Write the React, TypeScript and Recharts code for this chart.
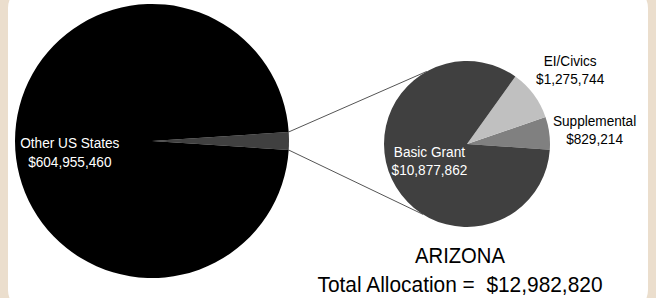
import { PieChart, Pie, Cell, Customized } from "recharts";

const usNames = ["Arizona", "Other US States"];
const usValues = [12982820, 604955460];
const usColors = ["#404040", "#000000"];

const azNames = ["Supplemental", "EI/Civics", "Basic Grant"];
const azValues = [829214, 1275744, 10877862];
const azColors = ["#808080", "#c0c0c0", "#404040"];

const stateName = "ARIZONA";
const totalLabel = "Total Allocation =  $12,982,820";

// no narrow font installed, so Liberation Sans gets squeezed horizontally
const FONT = "'Liberation Sans', Arial, sans-serif";

const usData = usNames.map((name, i) => ({ name, value: usValues[i] }));
const azData = azNames.map((name, i) => ({ name, value: azValues[i] }));

const money = (v: number) => "$" + v.toLocaleString("en-US");

const azShare = usValues[0] / (usValues[0] + usValues[1]);
const usStart = -azShare * 180;

// pie geometry
const BIG = { cx: 152, cy: 141, r: 137 };
const SMALL = { cx: 467, cy: 144, r: 83, start: -4 };

const RAD = Math.PI / 180;
const polar = (cx: number, cy: number, r: number, a: number) => ({
  x: cx + r * Math.cos(a * RAD),
  y: cy - r * Math.sin(a * RAD),
});

function narrow(x: number, y: number, lines: string[], fill: string, size: number, sx: number, gap: number) {
  return (
    <text
      transform={`translate(${x} ${y}) scale(${sx} 1)`}
      textAnchor="middle"
      fill={fill}
      fontSize={size}
      fontFamily={FONT}
      style={{ whiteSpace: "pre" }}
    >
      {lines.map((s, i) => (
        <tspan key={i} x={0} y={i * gap}>{s}</tspan>
      ))}
    </text>
  );
}

const bigLabel = (p: any) => {
  if (p.index !== 1) return null;
  const pt = polar(p.cx, p.cy, p.outerRadius * 0.6, p.midAngle);
  return narrow(pt.x, pt.y + 7, [p.name, money(p.value)], "#ffffff", 15.5, 0.88, 19);
};

const smallLabel = (p: any) => {
  if (p.name === "Basic Grant") {
    const pt = polar(p.cx, p.cy, p.outerRadius * 0.5, p.midAngle);
    return narrow(pt.x, pt.y - 5, [p.name, money(p.value)], "#ffffff", 15.5, 0.88, 18);
  }
  const pt = polar(p.cx, p.cy, p.outerRadius * 1.55, p.midAngle);
  return narrow(pt.x, pt.y - 1, [p.name, money(p.value)], "#000000", 15.5, 0.88, 18);
};

const Connectors = () => {
  const a1 = polar(BIG.cx, BIG.cy, BIG.r, -usStart);
  const a2 = polar(BIG.cx, BIG.cy, BIG.r, usStart);
  const b1 = polar(SMALL.cx, SMALL.cy, SMALL.r, 119);
  const b2 = polar(SMALL.cx, SMALL.cy, SMALL.r, 238);
  return (
    <g>
      <line x1={a1.x} y1={a1.y} x2={b1.x} y2={b1.y} stroke="#555" strokeWidth={1} />
      <line x1={a2.x} y1={a2.y} x2={b2.x} y2={b2.y} stroke="#555" strokeWidth={1} />
      {narrow(460, 263, [stateName], "#000", 22, 0.92, 0)}
      {narrow(460, 292, [totalLabel], "#000", 22, 0.95, 0)}
    </g>
  );
};

export default function App() {
  return (
    <div style={{ position: "absolute", left: 0, top: 0, width: 656, height: 298, background: "#ebdecd", overflow: "hidden" }}>
      <div style={{ position: "absolute", left: 8, top: -14, width: 640, height: 326, background: "#ffffff", borderRadius: 22 }} />
      <div style={{ position: "absolute", left: 0, top: 0 }}>
        <PieChart width={656} height={298} margin={{ top: 0, right: 0, bottom: 0, left: 0 }}>
          <Customized component={Connectors} />
          <Pie
            data={usData}
            dataKey="value"
            nameKey="name"
            cx={BIG.cx}
            cy={BIG.cy}
            outerRadius={BIG.r}
            startAngle={usStart}
            endAngle={usStart + 360}
            stroke="none"
            label={bigLabel}
            labelLine={false}
            isAnimationActive={false}
          >
            {usData.map((d, i) => (
              <Cell key={d.name} fill={usColors[i]} />
            ))}
          </Pie>
          <Pie
            data={azData}
            dataKey="value"
            nameKey="name"
            cx={SMALL.cx}
            cy={SMALL.cy}
            outerRadius={SMALL.r}
            startAngle={SMALL.start}
            endAngle={SMALL.start + 360}
            stroke="none"
            label={smallLabel}
            labelLine={false}
            isAnimationActive={false}
          >
            {azData.map((d, i) => (
              <Cell key={d.name} fill={azColors[i]} />
            ))}
          </Pie>
        </PieChart>
      </div>
    </div>
  );
}
